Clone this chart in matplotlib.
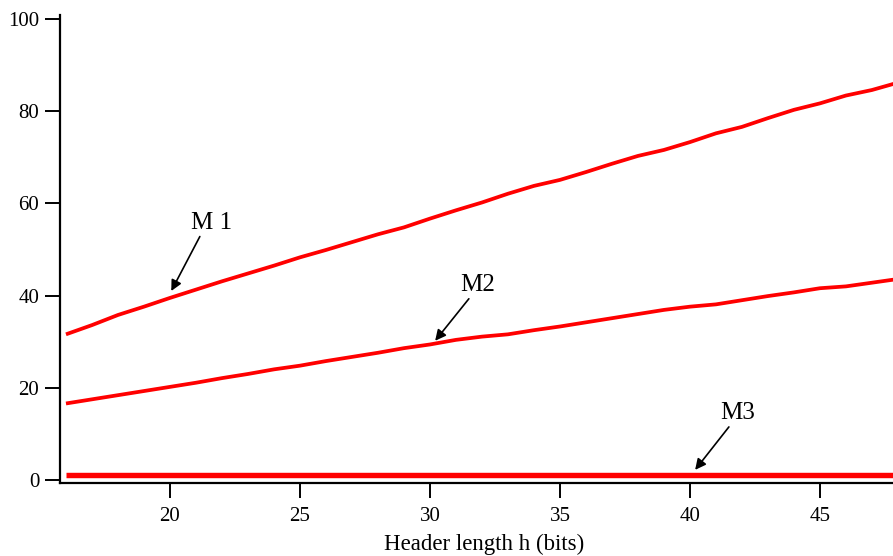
import matplotlib
matplotlib.use("Agg")
import matplotlib.pyplot as plt

h_bits = list(range(16, 49))
m1 = [31.6, 33.6, 35.8, 37.6, 39.5, 41.3, 43.1, 44.8, 46.5, 48.3, 49.9, 51.6, 53.3, 54.8,
      56.7, 58.5, 60.2, 62.1, 63.8, 65.1, 66.8, 68.6, 70.3, 71.6, 73.3, 75.2, 76.6, 78.5,
      80.3, 81.7, 83.4, 84.6, 86.2]
m2 = [16.6, 17.5, 18.4, 19.3, 20.2, 21.1, 22.1, 23.0, 24.0, 24.8, 25.8, 26.7, 27.6, 28.6,
      29.4, 30.4, 31.1, 31.6, 32.5, 33.3, 34.2, 35.1, 36.0, 36.9, 37.6, 38.1, 39.0, 39.9,
      40.7, 41.6, 42.0, 42.8, 43.6]
m3 = [1.0] * len(h_bits)
x_ticks = [20, 25, 30, 35, 40, 45]
y_ticks = [0, 20, 40, 60, 80, 100]

plt.rcParams['font.family'] = ['Liberation Serif', 'DejaVu Serif']

fig = plt.figure(figsize=(8.93, 5.56), dpi=100)
ax = fig.add_axes([60/893, 73/556, 833/893, 468/556])

ax.plot(h_bits, m1, color='#ff0000', lw=2.7, solid_capstyle='butt')
ax.plot(h_bits, m2, color='#ff0000', lw=2.7, solid_capstyle='butt')
ax.plot(h_bits, m3, color='#ff0000', lw=3.9, solid_capstyle='butt')

ax.set_xlim(15.77, 47.81)
ax.set_ylim(-0.65, 100.87)
ax.set_xticks(x_ticks)
ax.set_yticks(y_ticks)

for s in ['top', 'right']:
    ax.spines[s].set_visible(False)
for s in ['left', 'bottom']:
    ax.spines[s].set_linewidth(1.6)

ax.tick_params(axis='both', direction='out', length=11, width=1.4, labelsize=15, colors='black')
ax.tick_params(axis='y', pad=4)
ax.tick_params(axis='x', pad=6)

ax.set_xlabel('Header length h (bits)', fontsize=16.5)
ax.xaxis.set_label_coords(0.509, -0.108)

arrow = dict(arrowstyle='-|>', color='black', lw=1.2, mutation_scale=16, shrinkA=0, shrinkB=0)
ax.annotate('M 1', xy=(20.05, 41.0), xytext=(21.6, 55.8), fontsize=18, ha='center', va='center',
            arrowprops=dict(arrow, relpos=(0.25, 0.0)))
ax.annotate('M2', xy=(30.2, 30.2), xytext=(31.85, 42.3), fontsize=18, ha='center', va='center',
            arrowprops=dict(arrow, relpos=(0.3, 0.0)))
ax.annotate('M3', xy=(40.2, 2.2), xytext=(41.85, 14.5), fontsize=18, ha='center', va='center',
            arrowprops=dict(arrow, relpos=(0.3, 0.0)))

fig.savefig('out.png', dpi=100)
